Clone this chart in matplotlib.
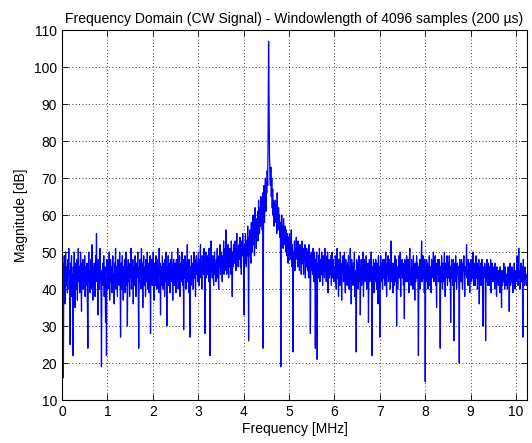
import numpy as np
import matplotlib
matplotlib.use("Agg")
import matplotlib.pyplot as plt

# Spectrum magnitude in dB, 10 kHz bins, split by frequency range
floor_low = [  # 0.00 - 3.29 MHz
    44, 38, 47, 16, 42, 49, 45, 36, 50, 41,
    46, 43, 39, 48, 44, 51, 40, 45, 25, 47,
    42, 49, 38, 44, 22, 46, 41, 50, 43, 35,
    47, 44, 40, 48, 37, 45, 51, 42, 46, 39,
    43, 50, 41, 34, 47, 44, 48, 40, 45, 42,
    49, 38, 46, 43, 41, 47, 36, 24, 44, 50,
    42, 45, 39, 48, 44, 40, 52, 43, 37, 46,
    41, 47, 44, 38, 49, 45, 55, 42, 46, 33,
    48, 43, 40, 46, 51, 44, 39, 19, 45, 42,
    47, 41, 49, 38, 44, 46, 31, 43, 22, 48,
    45, 40, 47, 43, 50, 37, 44, 48, 42, 46,
    39, 45, 49, 41, 44, 36, 47, 43, 51, 40,
    46, 42, 38, 48, 44, 45, 41, 50, 43, 27,
    47, 40, 45, 49, 42, 37, 46, 44, 48, 39,
    43, 50, 41, 46, 30, 45, 48, 42, 44, 38,
    47, 43, 51, 40, 45, 42, 48, 36, 46, 44,
    41, 49, 44, 38, 47, 43, 45, 50, 39, 24,
    46, 42, 48, 44, 40, 51, 43, 47, 35, 45,
    49, 41, 44, 46, 38, 48, 42, 45, 50, 40,
    44, 47, 39, 43, 49, 28, 46, 42, 48, 41,
    45, 50, 43, 37, 47, 44, 41, 49, 46, 40,
    48, 42, 45, 39, 51, 44, 47, 33, 43, 46,
    41, 49, 44, 40, 47, 45, 38, 48, 42, 50,
    44, 30, 46, 43, 49, 41, 47, 45, 39, 48,
    42, 46, 50, 44, 37, 45, 48, 41, 43, 47,
    45, 39, 48, 44, 42, 51, 40, 46, 43, 49,
    38, 45, 47, 42, 50, 44, 41, 48, 29, 46,
    43, 49, 45, 40, 47, 44, 52, 42, 46, 39,
    48, 44, 27, 46, 41, 49, 43, 47, 45, 40,
    46, 50, 43, 48, 38, 45, 49, 44, 47, 42,
    50, 45, 41, 48, 46, 52, 43, 47, 40, 49,
    45, 48, 44, 51, 42, 28, 47, 50, 43, 46,
    49, 44, 48, 42, 51, 46, 22, 47, 53, 45,
]
skirt_rise = [  # 3.30 - 4.39 MHz
    46, 43, 49, 45, 41, 48, 50, 44, 47, 42,
    48, 45, 51, 43, 47, 40, 49, 46, 52, 44,
    47, 50, 45, 42, 49, 46, 53, 44, 48, 51,
    45, 56, 48, 44, 50, 47, 52, 43, 49, 46,
    51, 47, 44, 53, 48, 38, 50, 46, 52, 49,
    47, 53, 50, 45, 49, 55, 48, 51, 46, 50,
    52, 48, 54, 46, 50, 44, 53, 49, 55, 51,
    48, 33, 52, 47, 55, 50, 46, 53, 49, 57,
    51, 26, 54, 49, 56, 52, 47, 58, 53, 50,
    55, 60, 52, 57, 49, 62, 54, 58, 51, 59,
    56, 61, 53, 64, 58, 55, 62, 57, 65, 60,
]
carrier = [  # 4.40 - 4.69 MHz
    62, 56, 66, 24, 60, 68, 58, 64, 70, 61,
    69, 66, 72, 68, 83, 107, 90, 76, 71, 68,
    73, 65, 70, 62, 67, 60, 64, 57, 63, 59,
]
skirt_fall = [  # 4.70 - 5.99 MHz
    64, 58, 61, 55, 66, 59, 56, 62, 57, 60,
    54, 58, 19, 56, 60, 53, 57, 51, 59, 55,
    52, 57, 54, 50, 56, 49, 55, 53, 47, 54,
    51, 55, 48, 53, 50, 56, 46, 52, 49, 23,
    50, 47, 53, 45, 51, 48, 54, 49, 52, 46,
    53, 48, 50, 45, 52, 47, 51, 44, 49, 53,
    47, 51, 44, 50, 48, 52, 43, 49, 46, 51,
    48, 45, 50, 43, 52, 46, 49, 28, 47, 50,
    45, 49, 44, 51, 47, 42, 50, 46, 24, 48,
    46, 50, 21, 47, 43, 49, 45, 51, 42, 48,
    47, 44, 50, 46, 41, 49, 45, 48, 43, 51,
    45, 49, 42, 47, 44, 50, 39, 46, 48, 43,
    47, 44, 49, 41, 46, 50, 43, 48, 45, 42,
]
floor_high = [  # 6.00 - 10.23 MHz
    46, 42, 49, 44, 40, 47, 51, 43, 45, 38,
    48, 44, 41, 50, 46, 43, 37, 47, 45, 49,
    42, 46, 50, 44, 39, 48, 43, 45, 41, 47,
    44, 49, 40, 46, 43, 51, 45, 36, 48, 42,
    46, 41, 47, 44, 50, 38, 45, 43, 23, 48,
    43, 47, 40, 45, 49, 42, 46, 33, 44, 48,
    41, 46, 44, 50, 38, 45, 48, 42, 47, 43,
    49, 40, 45, 43, 47, 31, 44, 48, 42, 46,
    44, 50, 41, 22, 46, 43, 48, 39, 45, 47,
    42, 48, 44, 40, 47, 45, 36, 49, 43, 46,
    27, 45, 49, 42, 47, 44, 40, 48, 43, 46,
    48, 41, 45, 50, 43, 38, 47, 44, 49, 42,
    45, 43, 48, 40, 46, 53, 42, 47, 44, 39,
    47, 44, 41, 49, 45, 42, 48, 30, 46, 43,
    40, 46, 49, 43, 45, 50, 38, 47, 44, 48,
    43, 47, 41, 45, 32, 48, 44, 46, 42, 49,
    46, 42, 48, 44, 39, 47, 51, 43, 45, 41,
    48, 44, 46, 40, 49, 43, 45, 37, 47, 42,
    45, 49, 43, 47, 41, 22, 46, 44, 48, 40,
    44, 47, 53, 42, 46, 49, 43, 45, 39, 48,
    15, 45, 42, 48, 44, 47, 40, 46, 43, 49,
    41, 46, 44, 39, 48, 43, 47, 45, 50, 42,
    46, 43, 49, 41, 45, 35, 47, 44, 48, 42,
    44, 48, 43, 24, 46, 42, 49, 45, 40, 47,
    42, 46, 50, 44, 38, 47, 43, 45, 49, 41,
    47, 43, 45, 49, 42, 46, 31, 44, 48, 43,
    45, 41, 48, 26, 44, 47, 42, 49, 45, 40,
    43, 47, 44, 46, 41, 20, 48, 43, 46, 42,
    48, 44, 40, 47, 45, 49, 43, 38, 46, 44,
    46, 52, 43, 45, 41, 48, 44, 47, 39, 45,
    44, 48, 42, 46, 43, 50, 45, 41, 47, 43,
    41, 45, 49, 43, 47, 40, 46, 44, 48, 36,
    46, 43, 47, 41, 45, 48, 42, 30, 44, 46,
    43, 47, 44, 26, 46, 42, 48, 45, 41, 47,
    45, 41, 46, 43, 48, 39, 44, 47, 42, 45,
    42, 46, 44, 40, 47, 43, 45, 38, 46, 42,
    44, 41, 45, 43, 39, 46, 42, 44, 35, 45,
    41, 45, 42, 47, 43, 40, 46, 44, 41, 43,
    44, 40, 46, 42, 45, 34, 43, 47, 41, 44,
    42, 46, 43, 39, 45, 41, 47, 43, 40, 44,
    45, 42, 49, 44, 41, 46, 51, 43, 45, 40,
    43, 47, 42, 46, 44, 27, 48, 42, 45, 41,
    46, 43, 44, 41,
]

mag_db = np.concatenate([floor_low, skirt_rise, carrier, skirt_fall, floor_high])
bin_mhz = 0.01
freq = np.arange(len(mag_db)) * bin_mhz

plt.rcParams['font.family'] = ['Liberation Sans', 'DejaVu Sans']
plt.rcParams['font.size'] = 10

fig = plt.figure(figsize=(5.32, 4.43), dpi=100)
ax = fig.add_axes([0.1165, 0.097, 0.874, 0.835])
ax.plot(freq, mag_db, color='#0000ff', linewidth=0.9)

ax.set_xlim(0, 10.24)
ax.set_ylim(10, 110)
ax.set_xticks(range(0, 11))
ax.set_yticks(range(10, 111, 10))
ax.grid(True, color='black', linestyle=(0, (1, 3)), linewidth=0.6)
ax.tick_params(direction='in', top=True, right=True, length=4, width=0.6)
for s in ax.spines.values():
    s.set_linewidth(0.8)

ax.set_title('Frequency Domain (CW Signal) - Windowlength of 4096 samples (200 \u00b5s)',
             fontsize=10, pad=5)
ax.set_xlabel('Frequency [MHz]', labelpad=2)
ax.set_ylabel('Magnitude [dB]')

fig.savefig('out.png', dpi=100)
